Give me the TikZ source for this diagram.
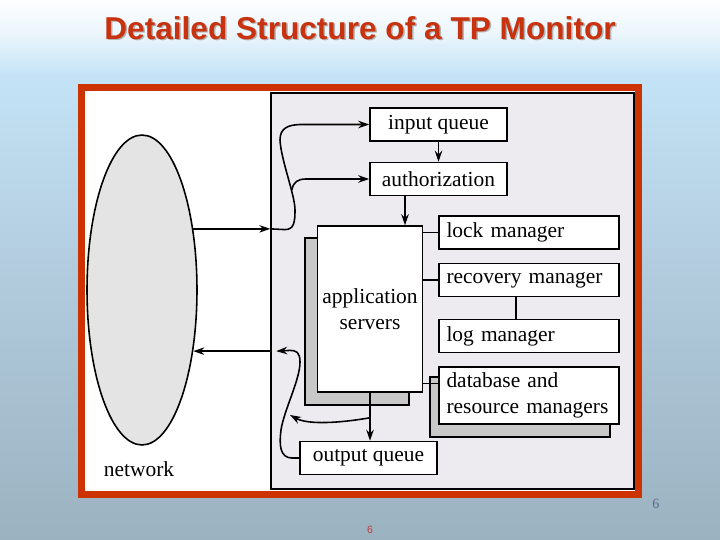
\documentclass[tikz,border=0pt]{standalone}
\usepackage{fontspec}
\setmainfont{Liberation Serif}
\newfontfamily\titlefont{Liberation Sans}
\usetikzlibrary{shapes.geometric, arrows.meta, calc}

\definecolor{frameorange}{RGB}{204,51,0}
\definecolor{titlered}{RGB}{200,50,15}
\definecolor{panelgray}{RGB}{238,235,240}
\definecolor{shadowgray}{RGB}{200,200,200}
\definecolor{netgray}{RGB}{228,228,228}
\definecolor{pageblue}{RGB}{95,105,150}
\definecolor{pagered}{RGB}{190,60,60}
\definecolor{bgtop}{RGB}{253,254,255}
\definecolor{bgpale}{RGB}{236,246,252}
\definecolor{bgblue}{RGB}{196,227,246}
\definecolor{bgmid}{RGB}{178,204,222}
\definecolor{bgbot}{RGB}{155,178,192}
\pgfdeclareverticalshading{slidebg}{100bp}{color(0bp)=(bgbot); color(25bp)=(bgbot); color(50bp)=(bgmid); color(68bp)=(bgblue); color(72bp)=(bgpale); color(75bp)=(bgtop); color(100bp)=(bgtop)}

\tikzset{
  box/.style={draw, fill=white, line width=0.9pt, inner sep=0pt, font=\fontsize{12.2}{14.8}\selectfont},
  queue/.style={box, minimum width=2.74cm, minimum height=0.66cm},
  mgr/.style={box, minimum height=0.66cm, text width=3.3cm, inner xsep=0.15cm, align=left},
  shadowbox/.style={draw, fill=shadowgray, line width=0.9pt, inner sep=0pt},
  link/.style={line width=0.9pt},
  arr/.style={link, -{Stealth[length=0.22cm, width=0.15cm]}}
}

\begin{document}
\begin{tikzpicture}[x=0.02cm, y=-0.02cm]
    \shade[shading=slidebg] (0,0) rectangle (720,540);
    \useasboundingbox (0,0) rectangle (720,540);

    \node[font=\titlefont\bfseries\fontsize{18}{20}\selectfont, text=gray!60] at (361.5,29.5) {Detailed Structure of a TP Monitor};
    \node[font=\titlefont\bfseries\fontsize{18}{20}\selectfont, text=titlered] (title) at (360,28) {Detailed Structure of a TP Monitor};

    \draw[frameorange, line width=0.14cm, fill=white] (81.5,87.5) rectangle (638.5,494.5);
    \node[draw, fill=panelgray, line width=0.9pt, minimum width=7.26cm, minimum height=7.92cm, inner sep=0pt] (panel) at (452.5,291) {};

    \node[ellipse, draw, fill=netgray, line width=0.9pt, minimum width=2.2cm, minimum height=6.2cm, inner sep=0pt] (net) at (142,290) {};
    \node[font=\fontsize{12.2}{14}\selectfont] (netlabel) at (139,469) {network};

    \node[queue] (inq) at (438.5,124.5) {input queue};
    \node[queue] (auth) at (438.5,179) {authorization};

    \node[shadowbox, minimum width=2.08cm, minimum height=3.34cm] (appsh) at (357,321.5) {};
    \node[box, minimum width=2.1cm, minimum height=3.32cm, align=center] (app) at (370,309) {application\\servers};

    \node[mgr] (lock) at (529,232.5) {lock manager};
    \node[mgr] (rec) at (529,280) {recovery manager};
    \node[mgr] (log) at (529,336) {log manager};
    \node[shadowbox, minimum width=3.6cm, minimum height=1.2cm] (dbsh) at (520,407) {};
    \node[mgr, minimum height=1.14cm] (db) at (529,395.5) {database and\\resource managers};

    \node[queue] (outq) at (368.5,458) {output queue};

    % requests coming in from the network
    \draw[arr] (net.50) -- (net.50 -| panel.west);
    \draw[arr] (net.50 -| panel.west) -- (285,229.6) .. controls (294,229.6) and (295,222) .. (295,210)
        .. controls (295,195) and (281,160) .. (280,140) .. controls (280,128) and (288,125) .. (300,124.5) -- (inq.west);
    \draw[arr] (292,190) .. controls (293,182) and (298,179) .. (306,179) -- (auth.west);
    \draw[arr] (inq.south) -- (auth.north);
    \draw[arr] ([xshift=-0.67cm]auth.south) -- ([xshift=-0.67cm]auth.south |- app.north);

    \draw[link] (lock.west -| app.east) -- (lock.west);
    \draw[link] (rec.west -| app.east) -- (rec.west);
    \draw[link] ([xshift=-0.26cm]rec.south) -- ([xshift=-0.26cm]rec.south |- log.north);
    \draw[link] ([yshift=0.24cm]db.west -| app.east) -- ([yshift=0.24cm]db.west);

    % replies going back out
    \draw[arr] (app.south) -- (app.south |- outq.north);
    \draw[arr] ([yshift=-0.5cm]app.south) .. controls (340,423) and (308,425) .. (290,415);
    \draw[arr] (outq.west) -- (292,458) .. controls (280,458) and (279,445) .. (281,430)
        .. controls (284,410) and (300,380) .. (300,362) .. controls (300,352) and (296,350.4) .. (290,350.4)
        -- ($(net.-50 -| panel.west)+(6,0)$);
    \draw[arr] (net.-50 -| panel.west) -- (net.-50);

    \node[font=\fontsize{8}{9}\selectfont, text=pageblue] (pagenum) at (656,504) {6};
    \node[font=\titlefont\fontsize{6}{7}\selectfont, text=pagered] (slidenum) at (370,530) {6};
\end{tikzpicture}
\end{document}
